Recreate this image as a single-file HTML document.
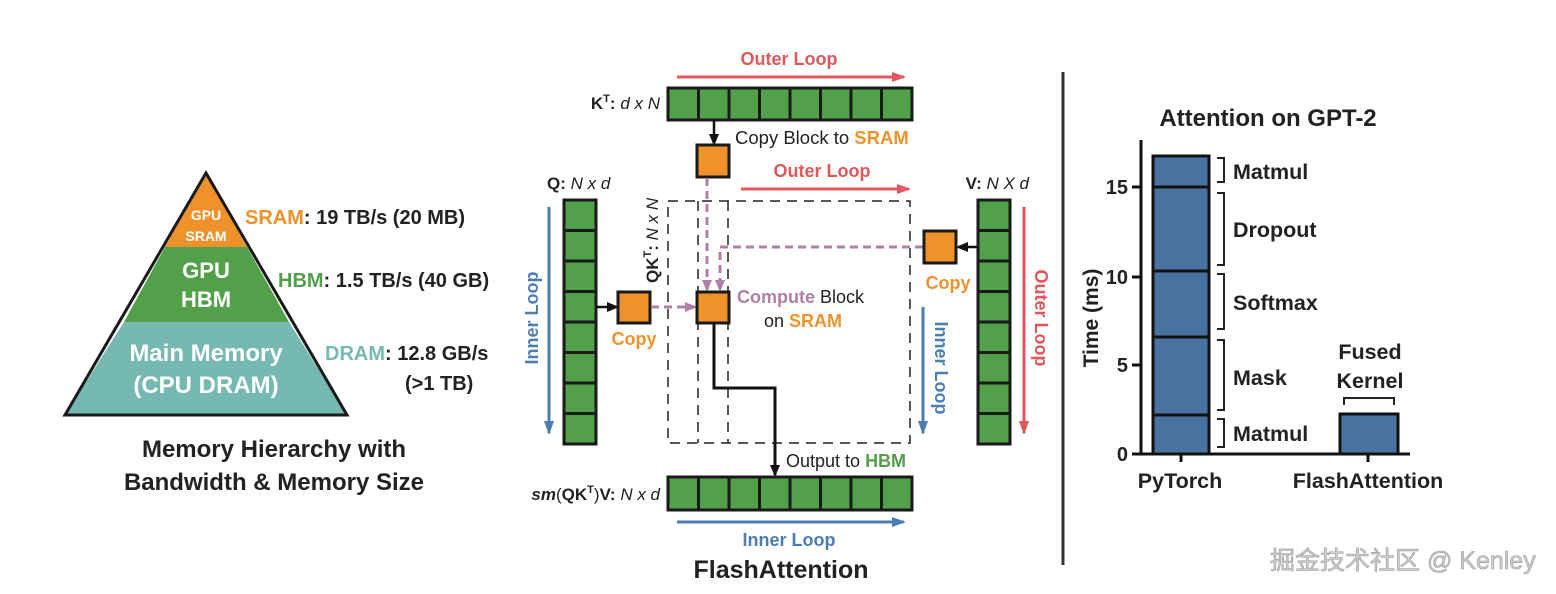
<!DOCTYPE html>
<html><head><meta charset="utf-8"><style>
html,body{margin:0;padding:0;background:#fff;}
svg{display:block;font-family:"Liberation Sans","Noto Sans CJK SC",sans-serif;}
</style></head><body>
<svg width="1556" height="594" viewBox="0 0 1556 594" xmlns="http://www.w3.org/2000/svg">
<defs>
<marker id="ab" markerWidth="12" markerHeight="10" refX="10" refY="5" orient="auto" markerUnits="userSpaceOnUse"><path d="M0,0 L12,5 L0,10 z" fill="#111"/></marker>
<marker id="ar" markerWidth="14" markerHeight="10" refX="12" refY="5" orient="auto" markerUnits="userSpaceOnUse"><path d="M0,0 L14,5 L0,10 z" fill="#e0585c"/></marker>
<marker id="au" markerWidth="14" markerHeight="10" refX="12" refY="5" orient="auto" markerUnits="userSpaceOnUse"><path d="M0,0 L14,5 L0,10 z" fill="#4c7db3"/></marker>
<marker id="ap" markerWidth="12" markerHeight="10" refX="10" refY="5" orient="auto" markerUnits="userSpaceOnUse"><path d="M0,0 L12,5 L0,10 z" fill="#b07fa8"/></marker>
</defs>

<!-- Pyramid -->
<polygon points="206,173 247,247 165,247" fill="#f0922b"/>
<polygon points="165,247 247,247 289,322 124,322" fill="#53a04a"/>
<polygon points="124,322 289,322 347,415 65,415" fill="#76b8b2"/>
<polygon points="206,173 347,415 65,415" fill="none" stroke="#1a1a1a" stroke-width="3"/>
<g fill="#fff" text-anchor="middle" font-weight="bold">
<text x="206" y="220" font-size="14">GPU</text>
<text x="206" y="241" font-size="14">SRAM</text>
<text x="206" y="278" font-size="22">GPU</text>
<text x="206" y="307" font-size="22">HBM</text>
<text x="206" y="361" font-size="24">Main Memory</text>
<text x="206" y="393" font-size="24">(CPU DRAM)</text>
</g>
<g font-size="20" font-weight="bold" fill="#222">
<text x="245" y="224"><tspan fill="#f0922b">SRAM</tspan>: 19 TB/s (20 MB)</text>
<text x="278" y="287"><tspan fill="#53a04a">HBM</tspan>: 1.5 TB/s (40 GB)</text>
<text x="325" y="360"><tspan fill="#76b8b2">DRAM</tspan>: 12.8 GB/s</text>
<text x="405" y="390">(&gt;1 TB)</text>
</g>
<g font-size="24" font-weight="bold" fill="#222" text-anchor="middle">
<text x="274" y="457">Memory Hierarchy with</text>
<text x="274" y="490">Bandwidth &amp; Memory Size</text>
</g>

<!-- Middle -->
<text x="789" y="65" font-size="18" font-weight="bold" fill="#e0585c" text-anchor="middle">Outer Loop</text>
<line x1="677" y1="77" x2="904" y2="77" stroke="#e0585c" stroke-width="3" marker-end="url(#ar)"/>
<text x="660" y="109" font-size="17" fill="#222" text-anchor="end"><tspan font-weight="bold">K</tspan><tspan font-size="11" dy="-7" font-weight="bold">T</tspan><tspan dy="7" font-weight="bold">:</tspan> <tspan font-style="italic">d x N</tspan></text>
<g fill="#53a04a" stroke="#1a1a1a" stroke-width="3">
<rect x="668" y="88" width="244" height="32"/>
<rect x="668" y="477" width="244" height="33"/>
<rect x="564" y="200" width="32" height="244"/>
<rect x="978" y="200" width="32" height="244"/>
</g>
<g stroke="#1a1a1a" stroke-width="3">
<line x1="698.5" y1="88" x2="698.5" y2="120"/><line x1="729" y1="88" x2="729" y2="120"/><line x1="759.5" y1="88" x2="759.5" y2="120"/><line x1="790" y1="88" x2="790" y2="120"/><line x1="820.5" y1="88" x2="820.5" y2="120"/><line x1="851" y1="88" x2="851" y2="120"/><line x1="881.5" y1="88" x2="881.5" y2="120"/>
<line x1="698.5" y1="477" x2="698.5" y2="510"/><line x1="729" y1="477" x2="729" y2="510"/><line x1="759.5" y1="477" x2="759.5" y2="510"/><line x1="790" y1="477" x2="790" y2="510"/><line x1="820.5" y1="477" x2="820.5" y2="510"/><line x1="851" y1="477" x2="851" y2="510"/><line x1="881.5" y1="477" x2="881.5" y2="510"/>
<line x1="564" y1="230.5" x2="596" y2="230.5"/><line x1="564" y1="261" x2="596" y2="261"/><line x1="564" y1="291.5" x2="596" y2="291.5"/><line x1="564" y1="322" x2="596" y2="322"/><line x1="564" y1="352.5" x2="596" y2="352.5"/><line x1="564" y1="383" x2="596" y2="383"/><line x1="564" y1="413.5" x2="596" y2="413.5"/>
<line x1="978" y1="230.5" x2="1010" y2="230.5"/><line x1="978" y1="261" x2="1010" y2="261"/><line x1="978" y1="291.5" x2="1010" y2="291.5"/><line x1="978" y1="322" x2="1010" y2="322"/><line x1="978" y1="352.5" x2="1010" y2="352.5"/><line x1="978" y1="383" x2="1010" y2="383"/><line x1="978" y1="413.5" x2="1010" y2="413.5"/>
</g>
<g fill="none" stroke="#222" stroke-width="1.5" stroke-dasharray="10,7">
<rect x="668" y="201" width="242" height="242"/>
<line x1="698" y1="201" x2="698" y2="443"/>
<line x1="728" y1="201" x2="728" y2="443"/>
</g>
<line x1="714" y1="120" x2="714" y2="144" stroke="#111" stroke-width="2.5" marker-end="url(#ab)"/>
<rect x="697" y="145" width="32" height="32" fill="#f0922b" stroke="#1a1a1a" stroke-width="3"/>
<text x="735" y="144" font-size="18.5" fill="#222">Copy Block to <tspan fill="#f0922b" font-weight="bold">SRAM</tspan></text>
<text x="822" y="177" font-size="18" font-weight="bold" fill="#e0585c" text-anchor="middle">Outer Loop</text>
<line x1="741" y1="189" x2="909" y2="189" stroke="#e0585c" stroke-width="3" marker-end="url(#ar)"/>
<text x="547" y="189" font-size="17" fill="#222"><tspan font-weight="bold">Q:</tspan> <tspan font-style="italic">N x d</tspan></text>
<text x="1029" y="189" font-size="17" fill="#222" text-anchor="end"><tspan font-weight="bold">V:</tspan> <tspan font-style="italic">N X d</tspan></text>
<text transform="translate(658,283) rotate(-90)" font-size="17" fill="#222"><tspan font-weight="bold">QK</tspan><tspan font-size="11" dy="-7" font-weight="bold">T</tspan><tspan dy="7" font-weight="bold">:</tspan> <tspan font-style="italic">N x N</tspan></text>
<line x1="549" y1="207" x2="549" y2="433" stroke="#4c7db3" stroke-width="3" marker-end="url(#au)"/>
<text transform="translate(538,318) rotate(-90)" font-size="18" font-weight="bold" fill="#4c7db3" text-anchor="middle">Inner Loop</text>
<line x1="596" y1="307" x2="617" y2="307" stroke="#111" stroke-width="2.5" marker-end="url(#ab)"/>
<rect x="618" y="292" width="32" height="31" fill="#f0922b" stroke="#1a1a1a" stroke-width="3"/>
<text x="634" y="345" font-size="18" font-weight="bold" fill="#f0922b" text-anchor="middle">Copy</text>
<g stroke="#b07fa8" stroke-width="3" stroke-dasharray="8,5" fill="none">
<line x1="651" y1="307" x2="695" y2="307" marker-end="url(#ap)"/>
<line x1="707" y1="178" x2="707" y2="290" marker-end="url(#ap)"/>
<polyline points="923,247 720,247 720,290" marker-end="url(#ap)"/>
</g>
<rect x="697" y="292" width="32" height="31" fill="#f0922b" stroke="#1a1a1a" stroke-width="3"/>
<text x="737" y="303" font-size="18" fill="#222"><tspan fill="#b07fa8" font-weight="bold">Compute</tspan> Block</text>
<text x="764" y="327" font-size="18" fill="#222">on <tspan fill="#f0922b" font-weight="bold">SRAM</tspan></text>
<line x1="978" y1="247" x2="958" y2="247" stroke="#111" stroke-width="2.5" marker-end="url(#ab)"/>
<rect x="924" y="231" width="32" height="32" fill="#f0922b" stroke="#1a1a1a" stroke-width="3"/>
<text x="948" y="289" font-size="18" font-weight="bold" fill="#f0922b" text-anchor="middle">Copy</text>
<line x1="923" y1="307" x2="923" y2="433" stroke="#4c7db3" stroke-width="3" marker-end="url(#au)"/>
<text transform="translate(935,368) rotate(90)" font-size="18" font-weight="bold" fill="#4c7db3" text-anchor="middle">Inner Loop</text>
<line x1="1024" y1="207" x2="1024" y2="433" stroke="#e0585c" stroke-width="3" marker-end="url(#ar)"/>
<text transform="translate(1035,318) rotate(90)" font-size="18" font-weight="bold" fill="#e0585c" text-anchor="middle">Outer Loop</text>
<polyline points="714,323 714,388 775,388 775,475" fill="none" stroke="#111" stroke-width="3" marker-end="url(#ab)"/>
<text x="786" y="467" font-size="18" fill="#222">Output to <tspan fill="#53a04a" font-weight="bold">HBM</tspan></text>
<text x="660" y="500" font-size="17" fill="#222" text-anchor="end"><tspan font-weight="bold" font-style="italic">sm</tspan>(<tspan font-weight="bold">QK</tspan><tspan font-size="11" dy="-7" font-weight="bold">T</tspan><tspan dy="7">)</tspan><tspan font-weight="bold">V:</tspan> <tspan font-style="italic">N x d</tspan></text>
<line x1="677" y1="522" x2="904" y2="522" stroke="#4c7db3" stroke-width="3" marker-end="url(#au)"/>
<text x="789" y="546" font-size="18" font-weight="bold" fill="#4c7db3" text-anchor="middle">Inner Loop</text>
<text x="781" y="578" font-size="25" font-weight="bold" fill="#222" text-anchor="middle">FlashAttention</text>

<line x1="1063" y1="72" x2="1063" y2="565" stroke="#333" stroke-width="3"/>

<!-- Chart -->
<text x="1268" y="126" font-size="24" font-weight="bold" fill="#222" text-anchor="middle">Attention on GPT-2</text>
<g fill="#4a72a0" stroke="#111" stroke-width="3">
<rect x="1153" y="156" width="56" height="298"/>
<rect x="1340" y="414" width="58" height="40"/>
</g>
<g stroke="#111" stroke-width="3">
<line x1="1153" y1="187" x2="1209" y2="187"/><line x1="1153" y1="271" x2="1209" y2="271"/><line x1="1153" y1="337" x2="1209" y2="337"/><line x1="1153" y1="415" x2="1209" y2="415"/>
<line x1="1141" y1="140" x2="1141" y2="455"/>
<line x1="1132" y1="454" x2="1410" y2="454"/>
<line x1="1132" y1="187" x2="1141" y2="187"/><line x1="1132" y1="277" x2="1141" y2="277"/><line x1="1132" y1="365" x2="1141" y2="365"/>
<line x1="1181" y1="454" x2="1181" y2="462"/><line x1="1368" y1="454" x2="1368" y2="462"/>
</g>
<g fill="none" stroke="#222" stroke-width="2">
<polyline points="1217,158 1224,158 1224,182 1217,182"/>
<polyline points="1217,193 1224,193 1224,265 1217,265"/>
<polyline points="1217,274 1224,274 1224,329 1217,329"/>
<polyline points="1217,340 1224,340 1224,410 1217,410"/>
<polyline points="1217,419 1224,419 1224,447 1217,447"/>
<polyline points="1344,405 1344,398 1394,398 1394,405"/>
</g>
<g font-size="21.5" font-weight="bold" fill="#222">
<text x="1233" y="179">Matmul</text>
<text x="1233" y="237">Dropout</text>
<text x="1233" y="310">Softmax</text>
<text x="1233" y="385">Mask</text>
<text x="1233" y="441">Matmul</text>
</g>
<g font-size="21.5" font-weight="bold" fill="#222" text-anchor="middle">
<text x="1370" y="359">Fused</text>
<text x="1370" y="388">Kernel</text>
<text x="1180" y="488">PyTorch</text>
<text x="1368" y="488">FlashAttention</text>
</g>
<g font-size="20" font-weight="bold" fill="#222" text-anchor="end">
<text x="1128" y="194">15</text><text x="1128" y="284">10</text><text x="1128" y="372">5</text><text x="1128" y="461">0</text>
</g>
<text transform="translate(1098,318) rotate(-90)" font-size="21" font-weight="bold" fill="#222" text-anchor="middle">Time (ms)</text>

<text x="1270" y="569" font-size="25" fill="#cfcfcf" stroke="#9a9a9a" stroke-width="0.6">掘金技术社区 @ Kenley</text>
</svg>
</body></html>
